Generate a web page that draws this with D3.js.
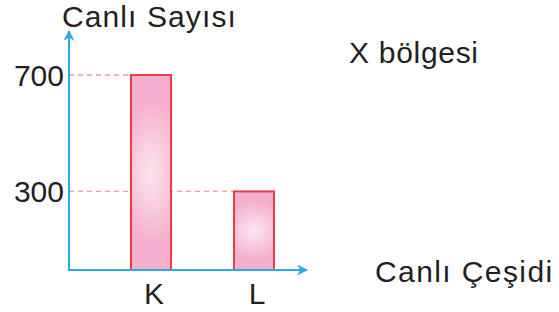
<!DOCTYPE html>
<html>
<head>
<meta charset="utf-8">
<script src="https://cdn.jsdelivr.net/npm/d3@7"></script>
<style>
body { margin: 0; background: #fff; }
text { font-family: "Liberation Sans", Arial, sans-serif; fill: #231f20; }
</style>
</head>
<body>
<div id="chart"></div>
<script>
var categories = ["K", "L"];
var values = [700, 300];
var tickValues = [300, 700];

var w = 559, h = 312;
var svg = d3.select("#chart").append("svg").attr("width", w).attr("height", h);

// step 103px, bar width 40px, first bar starting at x=131
var x = d3.scaleBand().domain(categories).range([79.5, 325.5]).paddingInner(0.6117).paddingOuter(0.5);
var y = d3.scaleLinear().domain([30, 700]).range([270, 75]);
var x0 = 69, yBase = 270;

var defs = svg.append("defs");
var grad = defs.append("radialGradient").attr("id", "barFill")
    .attr("cx", "50%").attr("cy", "50%").attr("r", "50%")
    .attr("gradientTransform", "translate(0.5,0.5) scale(1.6,0.75) translate(-0.5,-0.5)");
grad.append("stop").attr("offset", "0%").attr("stop-color", "#fbe6ef");
grad.append("stop").attr("offset", "100%").attr("stop-color", "#f5afce");

var axisColor = "#29abe2";
defs.append("marker").attr("id", "arrow").attr("viewBox", "0 0 10 10")
    .attr("refX", 9).attr("refY", 5).attr("markerWidth", 11).attr("markerHeight", 11)
    .attr("markerUnits", "userSpaceOnUse").attr("orient", "auto")
    .append("path").attr("d", "M0,0 L10,5 L0,10 L3,5 Z").attr("fill", axisColor);

// dashed guides (behind bars)
svg.selectAll("line.guide").data(values).enter().append("line")
    .attr("x1", x0).attr("x2", function (d, i) { return x(categories[i]); })
    .attr("y1", function (d) { return y(d); }).attr("y2", function (d) { return y(d); })
    .attr("stroke", "#f39c9c").attr("stroke-width", 1.4).attr("stroke-dasharray", "5,4");

// bars
svg.selectAll("rect.bar").data(values).enter().append("rect")
    .attr("x", function (d, i) { return x(categories[i]); })
    .attr("y", function (d) { return y(d); })
    .attr("width", x.bandwidth())
    .attr("height", function (d) { return yBase - y(d); })
    .attr("fill", "url(#barFill)")
    .attr("stroke", "#ee3a43").attr("stroke-width", 2);

// axes
svg.append("line").attr("x1", x0).attr("y1", yBase + 1).attr("x2", x0).attr("y2", 31)
    .attr("stroke", axisColor).attr("stroke-width", 2).attr("marker-end", "url(#arrow)");
svg.append("line").attr("x1", x0 - 1).attr("y1", yBase).attr("x2", 307).attr("y2", yBase)
    .attr("stroke", axisColor).attr("stroke-width", 2).attr("marker-end", "url(#arrow)");

// tick labels
svg.selectAll("text.ytick").data(tickValues).enter().append("text")
    .attr("x", 64).attr("y", function (d) { return y(d); }).attr("dy", "0.36em")
    .attr("text-anchor", "end").attr("font-size", 30).text(function (d) { return d; });

svg.selectAll("text.xtick").data(categories).enter().append("text")
    .attr("x", function (d) { return x(d) + x.bandwidth() / 2 + 3; }).attr("y", 304)
    .attr("text-anchor", "middle").attr("font-size", 30).text(function (d) { return d; });

svg.append("text").attr("x", 62).attr("y", 27).attr("font-size", 30)
    .attr("letter-spacing", 1.1).text("Canlı Sayısı");
svg.append("text").attr("x", 349).attr("y", 63).attr("font-size", 30)
    .attr("letter-spacing", 0.7).text("X bölgesi");
svg.append("text").attr("x", 375).attr("y", 282).attr("font-size", 30)
    .attr("letter-spacing", 1.4).text("Canlı Çeşidi");
</script>
</body>
</html>
